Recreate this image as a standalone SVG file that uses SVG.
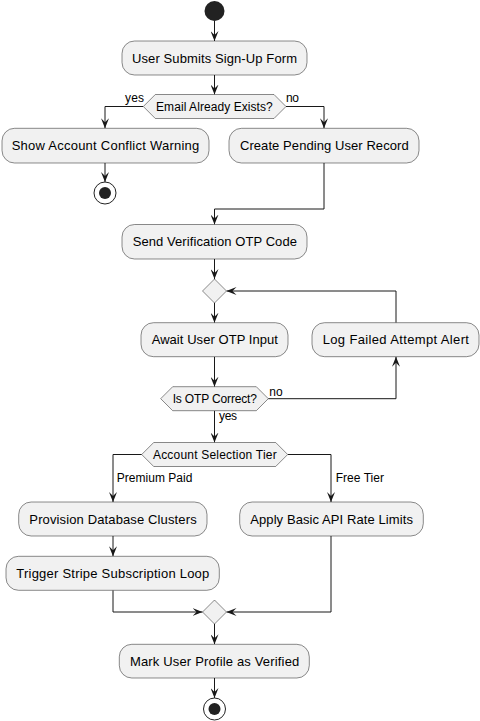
<svg xmlns="http://www.w3.org/2000/svg" width="480" height="721" viewBox="0 0 480 721">
<style>
.box{fill:#F1F1F1;stroke:#181818;stroke-width:0.5}
.t{font-family:"Liberation Sans",Arial,sans-serif;font-size:13px;fill:#000;text-anchor:middle}
.dt{font-family:"Liberation Sans",Arial,sans-serif;font-size:12px;fill:#000;text-anchor:middle}
.lb{font-family:"Liberation Sans",Arial,sans-serif;font-size:12px;fill:#000}
.e{fill:none;stroke:#181818;stroke-width:1}
</style>
<defs>
<marker id="ah" viewBox="0 0 10 8" refX="10" refY="4" markerWidth="10" markerHeight="8" markerUnits="userSpaceOnUse" orient="auto">
<path d="M0,0 L10,4 L0,8 L4,4 Z" fill="#181818"/>
</marker>
</defs>
<rect width="480" height="721" fill="#FFFFFF"/>
<g id="connectors">
<path class="e" marker-end="url(#ah)" d="M214.5,21 V41"/>
<path class="e" marker-end="url(#ah)" d="M214.5,75 V94.5"/>
<path class="e" marker-end="url(#ah)" d="M143.3,106.5 H105 V128.3"/>
<path class="e" marker-end="url(#ah)" d="M286,106.5 H324 V128.3"/>
<path class="e" marker-end="url(#ah)" d="M105,163 V182"/>
<path class="e" marker-end="url(#ah)" d="M324,163 V209 H214.5 V224.5"/>
<path class="e" marker-end="url(#ah)" d="M214.5,259 V279"/>
<path class="e" marker-end="url(#ah)" d="M214.5,303 V322.7"/>
<path class="e" marker-end="url(#ah)" d="M214.5,356.7 V386.7"/>
<path class="e" marker-end="url(#ah)" d="M268.3,398.7 H396 V356.7"/>
<path class="e" marker-end="url(#ah)" d="M396,322.7 V291 H226.5"/>
<path class="e" marker-end="url(#ah)" d="M214.5,410.7 V442.5"/>
<path class="e" marker-end="url(#ah)" d="M141.7,454.5 H113 V502"/>
<path class="e" marker-end="url(#ah)" d="M287.7,454.5 H331 V502"/>
<path class="e" marker-end="url(#ah)" d="M113,536 V556.3"/>
<path class="e" marker-end="url(#ah)" d="M113,590.3 V612 H202.5"/>
<path class="e" marker-end="url(#ah)" d="M331,536 V612 H226.5"/>
<path class="e" marker-end="url(#ah)" d="M214.5,624 V644.3"/>
<path class="e" marker-end="url(#ah)" d="M214.5,678 V698"/>
<text class="lb" x="125" y="102" textLength="19" lengthAdjust="spacing">yes</text>
<text class="lb" x="286" y="102" textLength="13" lengthAdjust="spacing">no</text>
<text class="lb" x="269.3" y="396" textLength="13.3" lengthAdjust="spacing">no</text>
<text class="lb" x="219" y="420" textLength="18" lengthAdjust="spacing">yes</text>
<text class="lb" x="116.7" y="482" textLength="75.7" lengthAdjust="spacing">Premium Paid</text>
<text class="lb" x="335.7" y="482" textLength="48.3" lengthAdjust="spacing">Free Tier</text>
</g>
<g id="start"><circle cx="214.5" cy="11" r="10" fill="#222222"/></g>
<g id="n1"><rect class="box" x="122" y="41" width="185" height="34" rx="12.5"/><text class="t" x="214.5" y="62.5" textLength="165" lengthAdjust="spacing">User Submits Sign-Up Form</text></g>
<g id="d1"><polygon class="box" points="143.3,106.5 155.3,94.5 274,94.5 286,106.5 274,118.5 155.3,118.5"/><text class="dt" x="214.4" y="111" textLength="116.7" lengthAdjust="spacing">Email Already Exists?</text></g>
<g id="n2"><rect class="box" x="2" y="128.3" width="207" height="34.7" rx="12.5"/><text class="t" x="105.5" y="150" textLength="187.6" lengthAdjust="spacing">Show Account Conflict Warning</text></g>
<g id="end1"><circle cx="105" cy="193" r="11" fill="none" stroke="#222222" stroke-width="1"/><circle cx="105" cy="193" r="6" fill="#222222"/></g>
<g id="n3"><rect class="box" x="229" y="128.3" width="190" height="34.7" rx="12.5"/><text class="t" x="324.3" y="150" textLength="168.7" lengthAdjust="spacing">Create Pending User Record</text></g>
<g id="n4"><rect class="box" x="122" y="224.5" width="185" height="34.5" rx="12.5"/><text class="t" x="214.8" y="246" textLength="164.3" lengthAdjust="spacing">Send Verification OTP Code</text></g>
<g id="m1"><polygon class="box" points="214.5,279 226.5,291 214.5,303 202.5,291"/></g>
<g id="n5"><rect class="box" x="141" y="322.7" width="147" height="34" rx="12.5"/><text class="t" x="214.8" y="344" textLength="126.3" lengthAdjust="spacing">Await User OTP Input</text></g>
<g id="n6"><rect class="box" x="312" y="322.7" width="167" height="34" rx="12.5"/><text class="t" x="395.8" y="344" textLength="146.3" lengthAdjust="spacing">Log Failed Attempt Alert</text></g>
<g id="d2"><polygon class="box" points="160.7,398.7 172.7,386.7 256.3,386.7 268.3,398.7 256.3,410.7 172.7,410.7"/><text class="dt" x="214.8" y="403" textLength="84.3" lengthAdjust="spacing">Is OTP Correct?</text></g>
<g id="d3"><polygon class="box" points="141.7,454.5 153.7,442.5 275.7,442.5 287.7,454.5 275.7,466.5 153.7,466.5"/><text class="dt" x="214.8" y="459" textLength="123.7" lengthAdjust="spacing">Account Selection Tier</text></g>
<g id="n7"><rect class="box" x="18.7" y="502" width="188.3" height="34" rx="12.5"/><text class="t" x="113" y="523.5" textLength="167.3" lengthAdjust="spacing">Provision Database Clusters</text></g>
<g id="n8"><rect class="box" x="239.7" y="502" width="183.6" height="34" rx="12.5"/><text class="t" x="331.6" y="523.5" textLength="162.7" lengthAdjust="spacing">Apply Basic API Rate Limits</text></g>
<g id="n9"><rect class="box" x="6" y="556.3" width="213.3" height="34" rx="12.5"/><text class="t" x="112.8" y="577.8" textLength="193" lengthAdjust="spacing">Trigger Stripe Subscription Loop</text></g>
<g id="m2"><polygon class="box" points="214.5,600 226.5,612 214.5,624 202.5,612"/></g>
<g id="n10"><rect class="box" x="119.3" y="644.3" width="190" height="33.7" rx="12.5"/><text class="t" x="214.6" y="665.7" textLength="169.3" lengthAdjust="spacing">Mark User Profile as Verified</text></g>
<g id="end2"><circle cx="214.5" cy="709" r="11" fill="none" stroke="#222222" stroke-width="1"/><circle cx="214.5" cy="709" r="6" fill="#222222"/></g>
</svg>
